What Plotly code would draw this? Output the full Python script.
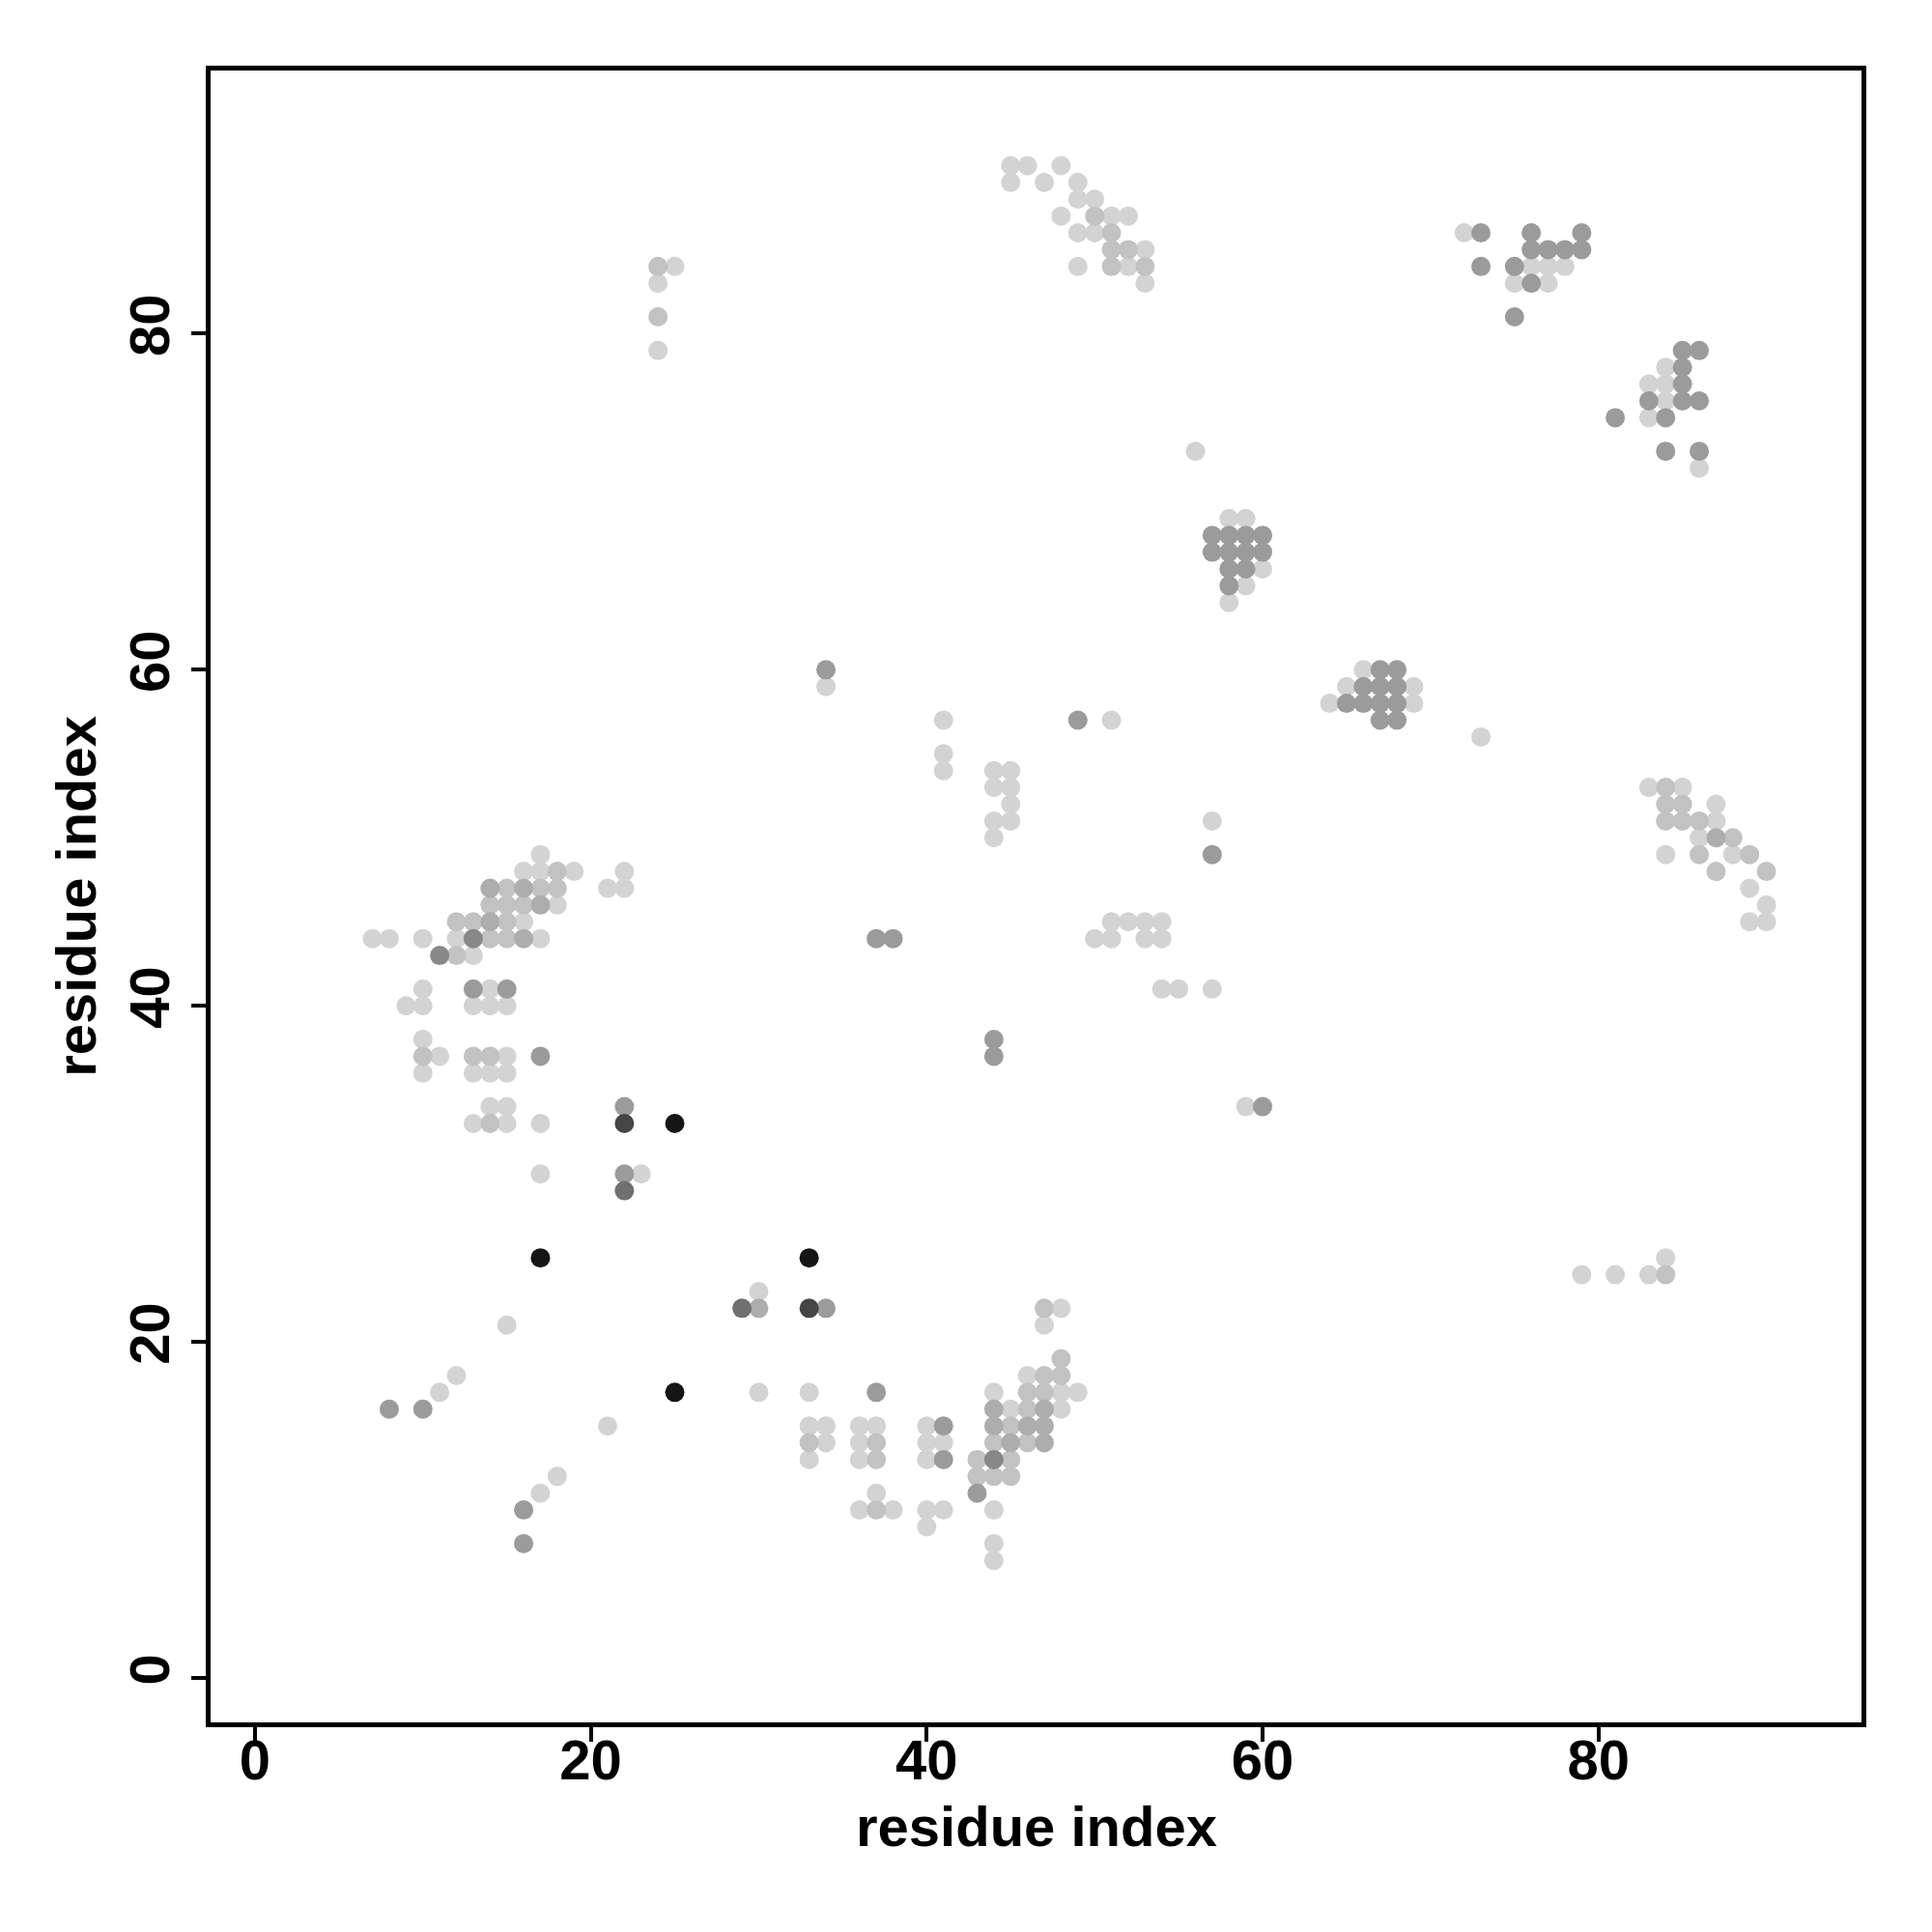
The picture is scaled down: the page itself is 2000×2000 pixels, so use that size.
import plotly.graph_objects as go

# residue i (x), residue j (y), contact count (shade level)
contact_i = [
    45, 46, 48, 45, 47, 49, 49, 50, 48, 50, 51, 52, 49, 50, 51, 51, 52, 53, 49, 51, 52, 53, 53,
    24, 25, 24, 24, 24,
    72, 73, 76, 79, 76, 77, 78, 79, 73, 75, 76, 77, 78, 75, 76, 77, 75,
    85, 86, 84, 85, 83, 84, 85, 83, 84, 85, 86, 81, 83, 84, 84, 86, 86,
    56, 58, 59, 57, 58, 59, 60, 57, 58, 59, 60, 58, 59, 60, 58, 59, 58,
    66, 67, 68, 65, 66, 67, 68, 69, 64, 65, 66, 67, 68, 69, 67, 68, 73,
    34, 34, 41, 49, 51, 41, 41, 44, 45, 44, 45, 45, 44, 45, 44, 57, 57,
    83, 84, 85, 84, 85, 87, 84, 85, 86, 87, 86, 87, 88, 84, 86, 88, 89, 87, 90, 89, 90, 89, 90,
    17, 16, 17, 18, 19, 22, 14, 15, 16, 17, 18, 21, 22, 14, 15, 16, 17, 18,
    12, 13, 14, 15, 16, 7, 8, 10, 12, 13, 14, 15, 16, 17, 11, 12, 13,
    10, 13, 14, 15, 9, 10, 13, 14, 15,
    10, 10, 11, 13, 14, 15, 17, 10, 13, 14, 15, 14, 15, 22, 13, 14, 15, 17, 22, 25, 17, 22, 23, 22,
    37, 38, 51, 52, 53, 54, 50, 51, 53, 54, 54, 55, 57, 44, 44, 59, 60,
    47, 48, 47, 48, 46, 47, 48, 37, 44, 46, 47, 48, 49, 44, 45, 46, 47, 48,
    36, 37, 40, 41, 44, 45, 46, 47, 36, 37, 40, 41, 44, 45, 46, 47,
    36, 37, 40, 41, 43, 44, 45, 43, 44, 45, 37, 43, 36, 37, 38, 40, 41, 44, 40, 44, 44,
    17, 33, 30, 29, 30, 33, 34, 15, 12, 11, 8, 10, 21, 25, 30, 33, 33, 34, 33, 34, 33, 18, 17, 16, 16,
    79, 81, 83, 84, 84,
]
contact_j = [
    90, 90, 90, 89, 89, 89, 88, 88, 87, 87, 87, 87, 86, 86, 86, 85, 85, 85, 84, 84, 84, 84, 83,
    84, 84, 83, 81, 79,
    86, 86, 86, 86, 85, 85, 85, 85, 84, 84, 84, 84, 84, 83, 83, 83, 81,
    79, 79, 78, 78, 77, 77, 77, 76, 76, 76, 76, 75, 75, 75, 73, 73, 72,
    73, 69, 69, 68, 68, 68, 68, 67, 67, 67, 67, 66, 66, 66, 65, 65, 64,
    60, 60, 60, 59, 59, 59, 59, 59, 58, 58, 58, 58, 58, 58, 57, 57, 56,
    60, 59, 57, 57, 57, 55, 54, 54, 54, 53, 53, 52, 51, 51, 50, 51, 49,
    53, 53, 53, 52, 52, 52, 51, 51, 51, 51, 50, 50, 50, 49, 49, 49, 49, 48, 48, 47, 46, 45, 45,
    49, 48, 48, 48, 48, 48, 47, 47, 47, 47, 47, 47, 47, 46, 46, 46, 46, 46,
    45, 45, 45, 45, 45, 44, 44, 44, 44, 44, 44, 44, 44, 44, 43, 43, 43,
    41, 41, 41, 41, 40, 40, 40, 40, 40,
    38, 37, 37, 37, 37, 37, 37, 36, 36, 36, 36, 34, 34, 34, 33, 33, 33, 33, 33, 33, 30, 30, 30, 29,
    44, 44, 45, 45, 45, 45, 44, 44, 44, 44, 41, 41, 41, 38, 37, 34, 34,
    22, 22, 21, 19, 18, 18, 18, 17, 17, 17, 17, 17, 17, 16, 16, 16, 16, 16,
    15, 15, 15, 15, 15, 15, 15, 15, 14, 14, 14, 14, 14, 14, 14, 14,
    13, 13, 13, 13, 13, 13, 13, 12, 12, 12, 11, 11, 10, 10, 10, 10, 10, 10, 9, 8, 7,
    25, 25, 23, 22, 22, 22, 22, 21, 18, 17, 16, 16, 15, 17, 17, 17, 15, 15, 14, 14, 13, 12, 11, 10, 8,
    24, 24, 24, 24, 25,
]
contact_count = [
    1, 1, 1, 1, 1, 1, 1, 1, 1, 2, 1, 1, 1, 1, 2, 2, 2, 1, 1, 2, 1, 2, 1,
    2, 1, 1, 2, 1,
    1, 4, 4, 4, 4, 4, 4, 4, 4, 4, 1, 1, 1, 1, 4, 1, 4,
    4, 4, 1, 4, 1, 1, 4, 4, 1, 4, 4, 4, 1, 4, 4, 4, 1,
    1, 1, 1, 4, 4, 4, 4, 4, 4, 4, 4, 4, 4, 1, 4, 1, 1,
    1, 4, 4, 1, 4, 4, 4, 1, 1, 4, 4, 4, 4, 1, 4, 4, 1,
    4, 1, 1, 4, 1, 1, 1, 1, 1, 1, 1, 1, 1, 1, 1, 1, 4,
    1, 2, 1, 2, 2, 1, 2, 2, 2, 1, 1, 3, 2, 1, 2, 1, 2, 2, 2, 1, 1, 1, 1,
    1, 1, 1, 2, 1, 1, 3, 2, 3, 2, 2, 1, 1, 2, 2, 2, 3, 1,
    2, 2, 3, 2, 1, 1, 1, 1, 1, 5, 2, 2, 3, 1, 5, 2, 1,
    1, 4, 1, 4, 1, 1, 1, 1, 1,
    1, 2, 1, 2, 2, 1, 4, 1, 1, 1, 1, 1, 1, 4, 1, 2, 1, 1, 7, 8, 1, 4, 1, 6,
    4, 4, 1, 1, 1, 1, 1, 1, 1, 1, 1, 1, 1, 4, 4, 1, 4,
    2, 1, 1, 2, 1, 2, 2, 4, 1, 2, 2, 1, 1, 3, 1, 2, 3, 1,
    1, 1, 1, 4, 3, 2, 3, 3, 1, 2, 1, 1, 2, 3, 2, 3,
    1, 2, 1, 4, 2, 5, 2, 2, 2, 2, 1, 4, 1, 2, 1, 1, 1, 1, 1, 1, 1,
    8, 8, 1, 6, 3, 7, 4, 1, 1, 1, 4, 4, 1, 8, 1, 1, 1, 1, 2, 1, 1, 1, 1, 4, 4,
    1, 1, 1, 2, 1,
]

tick_vals = [0, 20, 40, 60, 80]
tick_text = ["0", "20", "40", "60", "80"]
axis_title = "residue index"

shade = {1: "#d3d3d3", 2: "#c2c2c2", 3: "#adadad", 4: "#9b9b9b",
         5: "#888888", 6: "#707070", 7: "#454545", 8: "#151515"}

order = sorted(range(len(contact_i)), key=lambda k: contact_count[k])
xs = [contact_i[k] for k in order]
ys = [contact_j[k] for k in order]
cs = [shade[contact_count[k]] for k in order]

fig = go.Figure(go.Scatter(
    x=xs, y=ys, mode="markers",
    marker=dict(size=20, color=cs, line=dict(width=0)),
    hoverinfo="x+y",
))

font_family = "Liberation Sans"
axis_common = dict(
    tickvals=tick_vals, ticktext=tick_text,
    ticks="outside", ticklen=15, tickwidth=3.5, tickcolor="black",
    showline=True, linewidth=4.5, linecolor="black", mirror=True,
    showgrid=False, zeroline=False,
    tickfont=dict(family=font_family, size=58, color="black", weight="bold"),
)

fig.update_layout(
    width=2000, height=2000,
    margin=dict(l=210, r=81, t=65, b=225),
    paper_bgcolor="white", plot_bgcolor="white",
    showlegend=False,
    xaxis=dict(range=[-2.64, 95.66], ticklabelstandoff=-30, **axis_common),
    yaxis=dict(range=[-2.64, 95.66], tickangle=-90, **axis_common),
    annotations=[
        dict(text=axis_title, xref="paper", yref="paper", x=0.5, y=-0.063,
             xanchor="center", yanchor="middle", showarrow=False,
             font=dict(family=font_family, size=58, color="black", weight="bold")),
        dict(text=axis_title, xref="paper", yref="paper", x=-0.082, y=0.5,
             xanchor="center", yanchor="middle", textangle=-90, showarrow=False,
             font=dict(family=font_family, size=58, color="black", weight="bold")),
    ],
)

fig.write_html("out.html")
